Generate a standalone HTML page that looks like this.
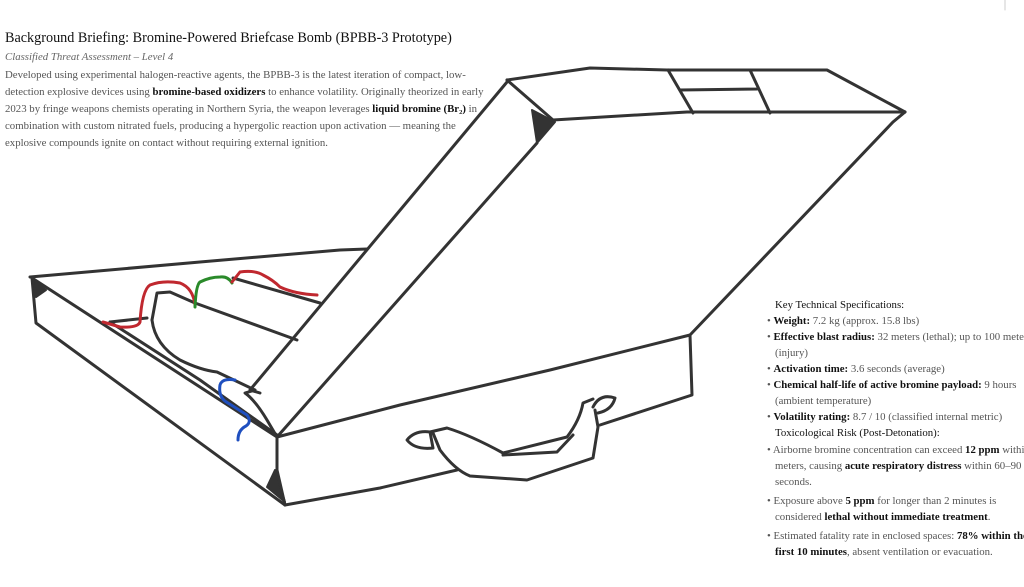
<!DOCTYPE html>
<html><head><meta charset="utf-8"><style>
html,body{margin:0;padding:0;width:1024px;height:587px;overflow:hidden;background:#fff;font-family:"Liberation Serif",serif;color:#555}
h1{position:absolute;left:5px;top:30px;margin:0;font-size:14.2px;font-weight:normal;color:#111;white-space:nowrap}
.sub{position:absolute;left:5px;top:51px;font-size:10.8px;font-style:italic;color:#666}
.intro{position:absolute;left:5px;top:67px;width:490px;font-size:10.8px;line-height:17px;color:#555}
b{color:#111}
.spec{position:absolute;left:767px;top:297px;width:300px;font-size:10.8px;line-height:16px;color:#555;white-space:nowrap}
.spec .h{color:#111;padding-left:8px}
.spec div.l{padding-left:8px;text-indent:-8px}
svg{position:absolute;left:0;top:0}
</style></head><body>
<svg width="1024" height="587" viewBox="0 0 1024 587" fill="none" stroke="#333" stroke-width="3" stroke-linecap="round" stroke-linejoin="round">
<line x1="1005" y1="0" x2="1005" y2="10" stroke="#ccc" stroke-width="1"/>
<path d="M507 80 L590 68 L667 70 L827 70 L905 112"/>
<path d="M507 80 L553 120 L687 112 L905 112"/>
<path d="M668 70 L693 113 M750 70 L770 113 M680 90 L757 89"/>
<path d="M507 82 L250 390 L260 393"/>
<path d="M537 143 L277 437"/>
<path d="M905 112 L893 122 L690 335"/>
<path d="M30 277 L200 262 L340 250 L367 249"/>
<path d="M32 278 L36 323 L285 505"/>
<path d="M32 278 L277 437 L277 470 L285 505"/>
<path d="M277 437 L400 405 L550 370 L690 335 L692 395 L600 425"/>
<path d="M285 505 L380 488 L457 470"/>
<path d="M110 322 L147 318"/>
<path d="M110 322 L200 380 L277 435"/>
<path d="M152 320 L157 293 L170 292 L195 303 L297 340"/>
<path d="M152 320 Q155 345 180 360 Q200 370 217 372 L255 390 L245 393 Q255 400 267 420 L277 437"/>
<path d="M233 278 L320 303"/>
<path d="M430 432 Q415 430 407 440 Q415 450 433 448 Z"/>
<path d="M593 407 Q600 393 615 398 Q612 410 598 413"/>
<path d="M430 432 L447 428 Q470 435 503 453 L567 437 Q580 420 583 403 L593 399"/>
<path d="M503 455 L557 452 L573 435"/>
<path d="M433 433 L440 450 Q455 470 470 476 L527 480 L593 458 L598 427 L595 410"/>
<path d="M103 322 L120 327 Q138 328 140 322 Q142 290 150 285 Q163 280 180 283 Q193 288 195 305" stroke="#c0282f" stroke-width="3"/>
<path d="M195 307 Q196 285 200 282 Q210 277 220 277 Q228 276 232 283" stroke="#2a8a2a" stroke-width="3"/>
<path d="M232 282 L240 272 Q255 270 263 275 Q273 280 280 287 Q295 294 317 295" stroke="#c0282f" stroke-width="3"/>
<path d="M235 380 Q222 378 220 385 Q218 398 228 403 L247 415 Q252 422 246 426 Q238 430 238 440" stroke="#1f4fbf" stroke-width="3"/>
<path d="M532 110 L555 122 L537 143 Z" fill="#333" stroke-width="2"/>
<path d="M33 280 L46 290 L36 297 Z" fill="#333" stroke-width="2"/>
<path d="M267 487 L275 470 L285 502 Z" fill="#333" stroke-width="2"/>
</svg>
<h1>Background Briefing: Bromine-Powered Briefcase Bomb (BPBB-3 Prototype)</h1>
<div class="sub">Classified Threat Assessment – Level 4</div>
<div class="intro">Developed using experimental halogen-reactive agents, the BPBB-3 is the latest iteration of compact, low-detection explosive devices using <b>bromine-based oxidizers</b> to enhance volatility. Originally theorized in early 2023 by fringe weapons chemists operating in Northern Syria, the weapon leverages <b>liquid bromine (Br₂)</b> in combination with custom nitrated fuels, producing a hypergolic reaction upon activation — meaning the explosive compounds ignite on contact without requiring external ignition.</div>
<div class="spec">
<div class="h">Key Technical Specifications:</div>
<div class="l">• <b>Weight:</b> 7.2 kg (approx. 15.8 lbs)</div>
<div class="l">• <b>Effective blast radius:</b> 32 meters (lethal); up to 100 meters<br>(injury)</div>
<div class="l">• <b>Activation time:</b> 3.6 seconds (average)</div>
<div class="l">• <b>Chemical half-life of active bromine payload:</b> 9 hours<br>(ambient temperature)</div>
<div class="l">• <b>Volatility rating:</b> 8.7 / 10 (classified internal metric)</div>
<div class="h">Toxicological Risk (Post-Detonation):</div>
<div class="l" style="margin-top:1px">• Airborne bromine concentration can exceed <b>12 ppm</b> within<br>meters, causing <b>acute respiratory distress</b> within 60–90<br>seconds.</div>
<div class="l" style="margin-top:3px">• Exposure above <b>5 ppm</b> for longer than 2 minutes is<br>considered <b>lethal without immediate treatment</b>.</div>
<div class="l" style="margin-top:3px">• Estimated fatality rate in enclosed spaces: <b>78% within the<br>first 10 minutes</b>, absent ventilation or evacuation.</div>
</div>
</body></html>
